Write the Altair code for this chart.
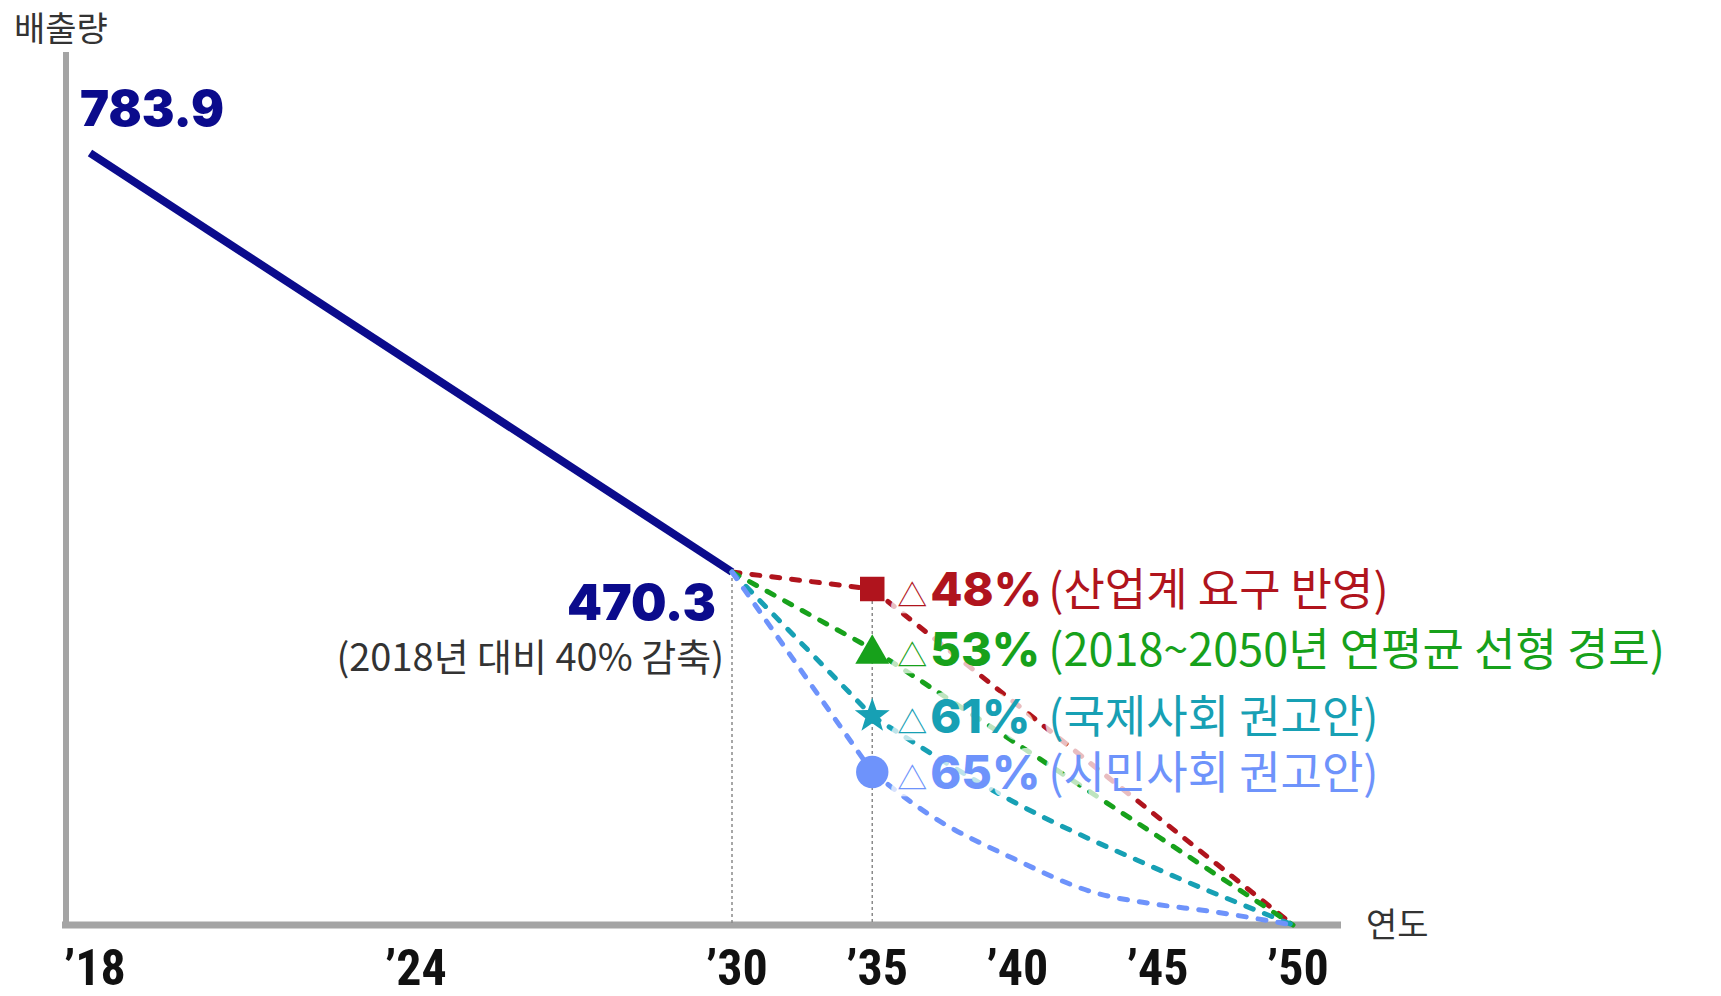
import altair as alt
import pandas as pd

# ---- emissions (Mt CO2eq) -------------------------------------------
base_years = [2018, 2030]
base_values = [783.9, 470.3]

# 2035 target scenarios
scenario_keys = ["industry", "linear", "intl", "civil"]
scenario_cuts = ["48%", "53%", "61%", "65%"]
scenario_notes = [
    "(산업계 요구 반영)",
    "(2018~2050년 연평균 선형 경로)",
    "(국제사회 권고안)",
    "(시민사회 권고안)",
]
scenario_2035 = [407.6, 368.4, 305.7, 274.4]
scenario_colors = ["#b0141d", "#17a11b", "#17a0b4", "#6e93fb"]

# pathways from 2035 to net zero in 2050
industry_years = [2035, 2050]
industry_values = [407.6, 0]
linear_years = [2035, 2050]
linear_values = [368.4, 0]
intl_years = [2035, 2040, 2045, 2050]
intl_values = [305.7, 222, 104, 0]
civil_years = [2035, 2037, 2040, 2043, 2045, 2047, 2050]
civil_values = [274.4, 199, 120, 57, 38, 25, 0]

tick_years = [2018, 2024, 2030, 2035, 2040, 2045, 2050]
tick_labels = ["’18", "’24", "’30", "’35", "’40", "’45", "’50"]

# ---- layout ------------------------------------------------------------
W, H = 1721, 996
X_BREAKS = [2018, 2030, 2050]
X_PIX = [90, 732, 1293]
Y_BREAKS = sorted([0] + scenario_2035 + base_values)
Y_PIX = [925, 772, 716, 649, 589, 572, 153]

STAR = ("M0,-1 L0.235,-0.324 L0.951,-0.309 L0.38,0.124 L0.588,0.809 "
        "L0,0.4 L-0.588,0.809 L-0.38,0.124 L-0.951,-0.309 L-0.235,-0.324 Z")
MARKER_SHAPES = ["square", "triangle-up", STAR, "circle"]
MARKER_SIZES = [600, 1150, 1350, 1050]

NUM_FONT = "Inter, Roboto, Noto Sans"
KR_FONT = "Noto Sans CJK KR, Noto Sans"
TICK_FONT = "Liberation Sans Narrow, Roboto Condensed, DejaVu Sans Condensed, Liberation Sans"
AXIS_GRAY = "#a4a4a4"
NAVY = "#0b0b8c"

xscale = alt.Scale(domain=X_BREAKS, range=X_PIX, nice=False, zero=False)
yscale = alt.Scale(domain=Y_BREAKS, range=Y_PIX, nice=False, zero=False)

X = alt.X("year:Q", scale=xscale, axis=None)
Y = alt.Y("value:Q", scale=yscale, axis=None)
color = alt.Color("key:N", scale=alt.Scale(domain=scenario_keys, range=scenario_colors),
                  legend=None)

# ---- tables ------------------------------------------------------------
base = pd.DataFrame({"year": base_years, "value": base_values})
scen = pd.DataFrame({
    "key": scenario_keys,
    "cut": scenario_cuts,
    "note": scenario_notes,
    "year": 2035,
    "value": scenario_2035,
    "tri": "△",
})
first_leg = pd.concat([
    pd.DataFrame({"key": scenario_keys, "year": 2030, "value": base_values[-1]}),
    scen[["key", "year", "value"]],
])
tails = pd.concat([
    pd.DataFrame({"key": k, "year": yrs, "value": vals})
    for k, yrs, vals in [
        ("industry", industry_years, industry_values),
        ("linear", linear_years, linear_values),
        ("intl", intl_years, intl_values),
        ("civil", civil_years, civil_values),
    ]
])
ticks = pd.DataFrame({"year": tick_years, "label": tick_labels, "value": 0})
one = pd.DataFrame({"a": [0]})

# ---- frame ------------------------------------------------------------
x_axis = alt.Chart(one).mark_rule(color=AXIS_GRAY, strokeWidth=7).encode(
    x=alt.value(62), x2=alt.value(1341), y=alt.value(925)
)
y_axis = alt.Chart(one).mark_rule(color=AXIS_GRAY, strokeWidth=6).encode(
    x=alt.value(66), y=alt.value(52), y2=alt.value(928)
)
x_ticks = alt.Chart(ticks).mark_text(
    baseline="alphabetic", dx=5, dy=60, fontSize=50, font=TICK_FONT, fontWeight="bold",
    color="#111"
).encode(x=X, y=Y, text="label:N")
y_title = alt.Chart(one).mark_text(
    align="left", baseline="middle", fontSize=34, font=KR_FONT, color="#333"
).encode(x=alt.value(14), y=alt.value(31), text=alt.value("배출량"))
x_title = alt.Chart(one).mark_text(
    align="left", baseline="middle", fontSize=34, font=KR_FONT, color="#333"
).encode(x=alt.value(1366), y=alt.value(927), text=alt.value("연도"))

# dotted guides down to the axis at 2030 and 2035
guides = alt.Chart(pd.DataFrame({"year": [2030, 2035],
                                 "value": [base_values[-1], scenario_2035[0]]})).mark_rule(
    color="#8a8a8a", strokeWidth=1.5, strokeDash=[3, 3]
).encode(x=X, y=Y, y2=alt.datum(0))

# ---- lines ------------------------------------------------------------
base_line = alt.Chart(base).mark_line(color=NAVY, strokeWidth=8).encode(x=X, y=Y)

dash = dict(strokeWidth=5, strokeDash=[8, 12], strokeCap="round")
leg1 = alt.Chart(first_leg).mark_line(**dash).encode(x=X, y=Y, color=color, detail="key:N")
leg2 = alt.Chart(tails).mark_line(interpolate="monotone", **dash).encode(
    x=X, y=Y, color=color, detail="key:N")

# one marker layer per scenario so each symbol keeps its own size
markers = [
    alt.Chart(scen.iloc[[i]]).mark_point(
        filled=True, opacity=1, shape=MARKER_SHAPES[i], size=MARKER_SIZES[i]
    ).encode(x=X, y=Y, color=color)
    for i in range(len(scenario_keys))
]

# ---- scenario labels -----------------------------------------------
pieces = [
    ("tri:N", 25, 30, "normal", KR_FONT),
    ("cut:N", 58, 47, 800, NUM_FONT),
    ("note:N", 176, 45, "normal", KR_FONT),
]


def label(field, dx, size, weight, font, halo):
    style = dict(align="left", baseline="alphabetic", dx=dx, dy=17, fontSize=size,
                 fontWeight=weight, font=font)
    if halo:
        style.update(fill="white", stroke="white", strokeWidth=14, strokeJoin="round",
                     opacity=0.72)
        return alt.Chart(scen).mark_text(**style).encode(x=X, y=Y, text=field)
    return alt.Chart(scen).mark_text(**style).encode(x=X, y=Y, text=field, color=color)


halos = [label(*p, halo=True) for p in pieces]
texts = [label(*p, halo=False) for p in pieces]

# ---- value annotations --------------------------------------------
start_lbl = alt.Chart(base.iloc[[0]]).mark_text(
    align="left", baseline="alphabetic", dx=-10, dy=-27, fontSize=49, fontWeight=900,
    font=NUM_FONT, color=NAVY
).encode(x=X, y=Y, text=alt.Text("value:Q", format=".1f"))
mid_lbl = alt.Chart(base.iloc[[1]]).mark_text(
    align="right", baseline="alphabetic", dx=-16, dy=48, fontSize=50, fontWeight=900,
    font=NUM_FONT, color=NAVY
).encode(x=X, y=Y, text=alt.Text("value:Q", format=".1f"))
mid_note = alt.Chart(base.iloc[[1]]).mark_text(
    align="right", baseline="alphabetic", dx=-8, dy=99, fontSize=38,
    font=KR_FONT, color="#333"
).encode(x=X, y=Y, text=alt.value("(2018년 대비 40% 감축)"))

chart = alt.layer(
    x_axis, y_axis, x_ticks, y_title, x_title, guides, base_line, leg1, leg2,
    *halos, *markers, *texts, start_lbl, mid_lbl, mid_note,
).properties(
    width=W, height=H, padding=0, autosize=alt.AutoSizeParams(type="none"),
    background="white",
).configure_view(stroke=None)

chart.save("out.html", embed_options={"renderer": "svg", "actions": False})
